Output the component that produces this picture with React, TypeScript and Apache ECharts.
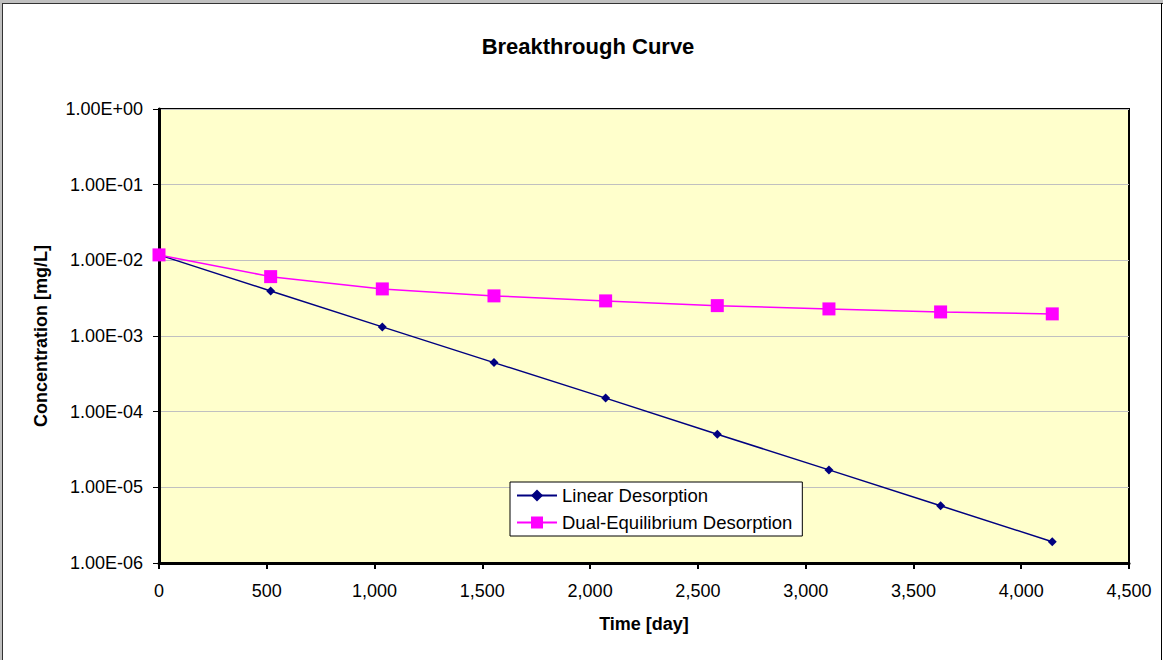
import React, { useEffect, useRef } from "react";
import * as echarts from "echarts";

const times = [0, 518, 1036, 1554, 2072, 2590, 3108, 3626, 4144];
const linearDesorption = [1.18e-2, 3.94e-3, 1.32e-3, 4.45e-4, 1.51e-4, 5.04e-5, 1.70e-5, 5.70e-6, 1.91e-6];
const dualDesorption = [1.18e-2, 6.09e-3, 4.19e-3, 3.39e-3, 2.91e-3, 2.52e-3, 2.28e-3, 2.08e-3, 1.96e-3];
const seriesNames = ["Linear Desorption", "Dual-Equilibrium Desorption"];

const FONT = "Arial, 'Liberation Sans', sans-serif";

function fmtExp(v: number): string {
  const e = Math.round(Math.log10(v));
  const sign = e < 0 ? "-" : "+";
  const a = Math.abs(e);
  return "1.00E" + sign + (a < 10 ? "0" + a : String(a));
}

function fmtThousands(v: number): string {
  return Math.round(v).toString().replace(/\B(?=(\d{3})+(?!\d))/g, ",");
}

export default function App() {
  const ref = useRef<HTMLDivElement>(null);
  useEffect(() => {
    if (!ref.current) return;
    const chart = echarts.init(ref.current, undefined, { renderer: "svg" });
    chart.setOption({
      animation: false,
      backgroundColor: "#ffffff",
      textStyle: { fontFamily: FONT },
      title: {
        text: "Breakthrough Curve",
        left: 583,
        top: 30,
        textAlign: "center",
        textStyle: { fontFamily: FONT, fontSize: 22, fontWeight: "bold", color: "#000" },
      },
      graphic: [
        { type: "rect", shape: { x: 0, y: 0, width: 1163, height: 3 }, style: { fill: "#c0c0c0" }, silent: true },
        { type: "rect", shape: { x: 0, y: 0, width: 2, height: 660 }, style: { fill: "#c0c0c0" }, silent: true },
        { type: "line", shape: { x1: 2.5, y1: 3, x2: 2.5, y2: 660 }, style: { stroke: "#333", lineWidth: 1 }, silent: true },
        { type: "line", shape: { x1: 2.5, y1: 3.5, x2: 1163, y2: 3.5 }, style: { stroke: "#333", lineWidth: 1 }, silent: true },
        { type: "line", shape: { x1: 1161.5, y1: 3, x2: 1161.5, y2: 660 }, style: { stroke: "#000", lineWidth: 1 }, silent: true },
      ],
      legend: {
        orient: "vertical",
        left: 510,
        top: 482,
        padding: [4, 10, 4, 6],
        itemGap: 8,
        itemWidth: 40,
        itemHeight: 15,
        backgroundColor: "#ffffff",
        borderColor: "#000000",
        borderWidth: 1,
        textStyle: { fontFamily: FONT, fontSize: 18.5, color: "#000" },
        data: seriesNames,
      },
      grid: {
        left: 159,
        top: 109,
        right: 34,
        bottom: 97,
        show: true,
        backgroundColor: "#FFFFCC",
        borderColor: "#000000",
        borderWidth: 2,
        containLabel: false,
      },
      xAxis: {
        type: "value",
        min: 0,
        max: 4500,
        interval: 500,
        name: "Time [day]",
        nameLocation: "middle",
        nameGap: 52,
        nameTextStyle: { fontFamily: FONT, fontSize: 18, fontWeight: "bold", color: "#000" },
        axisLine: { show: true, lineStyle: { color: "#000", width: 3 } },
        axisTick: { show: true, inside: false, length: 6, lineStyle: { color: "#000", width: 2 } },
        axisLabel: { fontFamily: FONT, fontSize: 18, color: "#000", margin: 19, formatter: (v: number) => fmtThousands(v) },
        splitLine: { show: false },
      },
      yAxis: {
        type: "log",
        logBase: 10,
        min: 1e-6,
        max: 1,
        name: "Concentration [mg/L]",
        nameLocation: "middle",
        nameGap: 109,
        nameRotate: 90,
        nameTextStyle: { fontFamily: FONT, fontSize: 18, fontWeight: "bold", color: "#000" },
        axisLine: { show: true, lineStyle: { color: "#000", width: 3 } },
        axisTick: { show: true, inside: false, length: 6, lineStyle: { color: "#000", width: 1 } },
        axisLabel: { fontFamily: FONT, fontSize: 18, color: "#000", margin: 16, formatter: (v: number) => fmtExp(v) },
        splitLine: { show: true, lineStyle: { color: "#c0c0c0", width: 1 } },
        minorTick: { show: false },
      },
      series: [
        {
          name: seriesNames[0],
          type: "line",
          data: times.map((t, i) => [t, linearDesorption[i]]),
          symbol: "diamond",
          symbolSize: 9,
          lineStyle: { color: "#000080", width: 1.5 },
          itemStyle: { color: "#000080" },
          z: 3,
        },
        {
          name: seriesNames[1],
          type: "line",
          data: times.map((t, i) => [t, dualDesorption[i]]),
          symbol: "rect",
          symbolSize: 13,
          lineStyle: { color: "#FF00FF", width: 1.5 },
          itemStyle: { color: "#FF00FF" },
          z: 4,
        },
      ],
    });
    return () => chart.dispose();
  }, []);
  return (
    <div
      ref={ref}
      style={{ position: "absolute", left: 0, top: 0, width: 1163, height: 660 }}
    />
  );
}
